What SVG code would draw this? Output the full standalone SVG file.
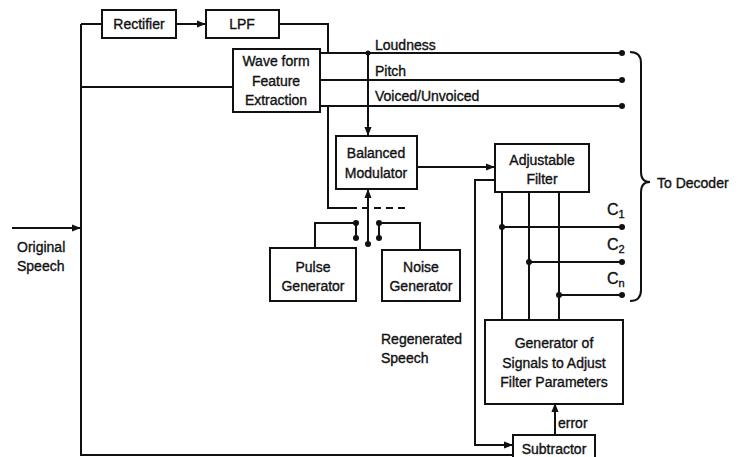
<svg xmlns="http://www.w3.org/2000/svg" width="742" height="457" viewBox="0 0 742 457">
<defs>
<style>
.box{fill:#fff;stroke:#111;stroke-width:2}
.ln{fill:none;stroke:#111;stroke-width:2}
.t{font-family:"Liberation Sans",Arial,sans-serif;font-size:14px;fill:#111;stroke:#111;stroke-width:0.35}
.c{text-anchor:middle;dominant-baseline:central}
.l{dominant-baseline:central}
.cl{font-size:16px}
.sub{font-size:11px}
.dot{fill:#111}
</style>
<marker id="ah" viewBox="0 0 10 10" refX="9" refY="5" markerWidth="9" markerHeight="9" markerUnits="userSpaceOnUse" orient="auto">
<path d="M0,1 L10,5 L0,9 z" fill="#111"/>
</marker>
</defs>
<rect width="742" height="457" fill="#fff"/>
<g id="connectors">
<path class="ln" d="M81,24 V455 H512"/>
<path class="ln" d="M81,24 H102"/>
<path class="ln" d="M176,24 H205" marker-end="url(#ah)"/>
<path class="ln" d="M279,24 H328 V53"/>
<path class="ln" d="M81,87 H233"/>
<path class="ln" d="M320,53 H622"/>
<path class="ln" d="M320,80 H622"/>
<path class="ln" d="M320,106 H622"/>
<path class="ln" d="M368,53 V135" marker-end="url(#ah)"/>
<path class="ln" d="M328,106 V208 H357"/>
<path class="ln" d="M362,208 H407" stroke-dasharray="7,5"/>
<path class="ln" d="M368,244 V190" marker-end="url(#ah)"/>
<path class="ln" d="M315,248 V223 H356 V238"/>
<path class="ln" d="M420,250 V223 H379 V238"/>
<path class="ln" d="M417,167 H494" marker-end="url(#ah)"/>
<path class="ln" d="M495,180 H475 V445 H512" marker-end="url(#ah)"/>
<path class="ln" d="M502,192 V320"/>
<path class="ln" d="M529,192 V320"/>
<path class="ln" d="M559,192 V320"/>
<path class="ln" d="M502,227 H622"/>
<path class="ln" d="M529,262 H622"/>
<path class="ln" d="M559,295 H622"/>
<path class="ln" d="M555,435 V404" marker-end="url(#ah)"/>
<path class="ln" d="M12,228 H80" marker-end="url(#ah)"/>
<path class="ln" d="M630,52 Q641,52 641,63 V172 Q641,182 650,182 Q641,182 641,192 V290 Q641,301 630,301"/>
<g class="dot">
<circle cx="622" cy="53" r="3"/><circle cx="622" cy="80" r="3"/><circle cx="622" cy="106" r="3"/>
<circle cx="368" cy="53" r="2.5"/>
<circle cx="356" cy="223" r="3"/><circle cx="356" cy="238" r="3"/>
<circle cx="379" cy="223" r="3"/><circle cx="379" cy="238" r="3"/>
<circle cx="368" cy="244" r="3"/>
<circle cx="502" cy="227" r="3"/><circle cx="622" cy="227" r="3"/>
<circle cx="529" cy="262" r="3"/><circle cx="622" cy="262" r="3"/>
<circle cx="559" cy="295" r="3"/><circle cx="622" cy="295" r="3"/>
</g>
</g>
<g id="rectifier"><rect class="box" x="102" y="10" width="74" height="28"/><text class="t c" x="139" y="24">Rectifier</text></g>
<g id="lpf"><rect class="box" x="206" y="10" width="73" height="28"/><text class="t c" x="242" y="24">LPF</text></g>
<g id="wfe"><rect class="box" x="233" y="49" width="87" height="63"/>
<text class="t c" x="276" y="61">Wave form</text><text class="t c" x="276" y="81">Feature</text><text class="t c" x="276" y="100">Extraction</text></g>
<g id="balmod"><rect class="box" x="336" y="136" width="81" height="53"/>
<text class="t c" x="376" y="153">Balanced</text><text class="t c" x="376" y="173">Modulator</text></g>
<g id="adjfilter"><rect class="box" x="495" y="144" width="94" height="48"/>
<text class="t c" x="542" y="160">Adjustable</text><text class="t c" x="542" y="179">Filter</text></g>
<g id="pulse"><rect class="box" x="270" y="248" width="86" height="53"/>
<text class="t c" x="313" y="267">Pulse</text><text class="t c" x="313" y="286">Generator</text></g>
<g id="noise"><rect class="box" x="382" y="250" width="78" height="51"/>
<text class="t c" x="421" y="267">Noise</text><text class="t c" x="421" y="286">Generator</text></g>
<g id="generator"><rect class="box" x="485" y="320" width="138" height="84"/>
<text class="t c" x="554" y="343">Generator of</text><text class="t c" x="554" y="363">Signals to Adjust</text><text class="t c" x="554" y="382">Filter Parameters</text></g>
<g id="subtractor"><rect class="box" x="513" y="435" width="82" height="30"/>
<text class="t c" x="554" y="449">Subtractor</text></g>
<g id="labels">
<text class="t l" x="375" y="45">Loudness</text>
<text class="t l" x="375" y="71">Pitch</text>
<text class="t l" x="375" y="96">Voiced/Unvoiced</text>
<text class="t l" x="17" y="247">Original</text>
<text class="t l" x="17" y="266">Speech</text>
<text class="t l" x="381" y="339">Regenerated</text>
<text class="t l" x="381" y="358">Speech</text>
<text class="t l" x="657" y="183">To Decoder</text>
<text class="t l" x="558" y="423">error</text>
<text class="t l cl" x="607" y="209">C<tspan class="sub" dy="5">1</tspan></text>
<text class="t l cl" x="607" y="244">C<tspan class="sub" dy="5">2</tspan></text>
<text class="t l cl" x="607" y="278">C<tspan class="sub" dy="5">n</tspan></text>
</g>
</svg>
